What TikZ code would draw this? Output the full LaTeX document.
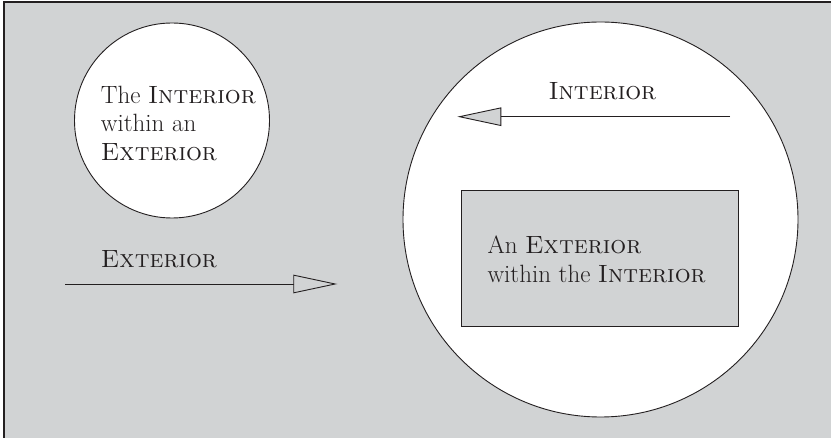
\documentclass[tikz,border=0pt]{standalone}
\usetikzlibrary{arrows.meta}
\definecolor{bggray}{HTML}{D1D3D4}
\definecolor{ink}{HTML}{231F20}
\begin{document}
\begin{tikzpicture}[x=1pt,y=-1pt,
  frame/.style={draw=ink,line width=1.4pt},
  shapeline/.style={draw=ink,line width=0.9pt},
  arrowline/.style={draw=ink,line width=0.9pt,-{Triangle[open,fill=bggray,length=44pt,width=18.5pt,line width=0.9pt]}},
  lbl/.style={text=ink,font=\fontsize{25}{28.7}\selectfont,inner sep=0pt,anchor=base west,align=left}]
\useasboundingbox (0,0) rectangle (831,438);
\fill[bggray] (4,2) rectangle (831,438);
\draw[frame] (4,440) -- (4,2) -- (833,2);
% small circle
\node[shapeline,circle,fill=white,minimum size=195pt,inner sep=0pt] (small) at (172,120.5) {};
% big circle
\node[shapeline,circle,fill=white,minimum size=395pt,inner sep=0pt] (big) at (600.5,219.5) {};
% rectangle
\node[shapeline,rectangle,fill=bggray,minimum width=276.6pt,minimum height=136pt,inner sep=0pt] (box) at (600,258) {};
% arrows
\coordinate (ia) at (730,116.7);
\coordinate (ib) at (457.3,116.7);
\draw[arrowline] (ia) -- (ib);
\coordinate (ea) at (65,284);
\coordinate (eb) at (337.3,284);
\draw[arrowline] (ea) -- (eb);
% texts (base anchor = baseline of last line)
\node[lbl] (t1) at (100.7,160.7) {The \textsc{Interior}\\within an\\\textsc{Exterior}};
\node[lbl] (t2) at (100.7,267.7) {\textsc{Exterior}};
\node[lbl] (t3) at (548.3,100) {\textsc{Interior}};
\node[lbl] (t4) at (487.3,282.7) {An \textsc{Exterior}\\within the \textsc{Interior}};
\end{tikzpicture}
\end{document}
